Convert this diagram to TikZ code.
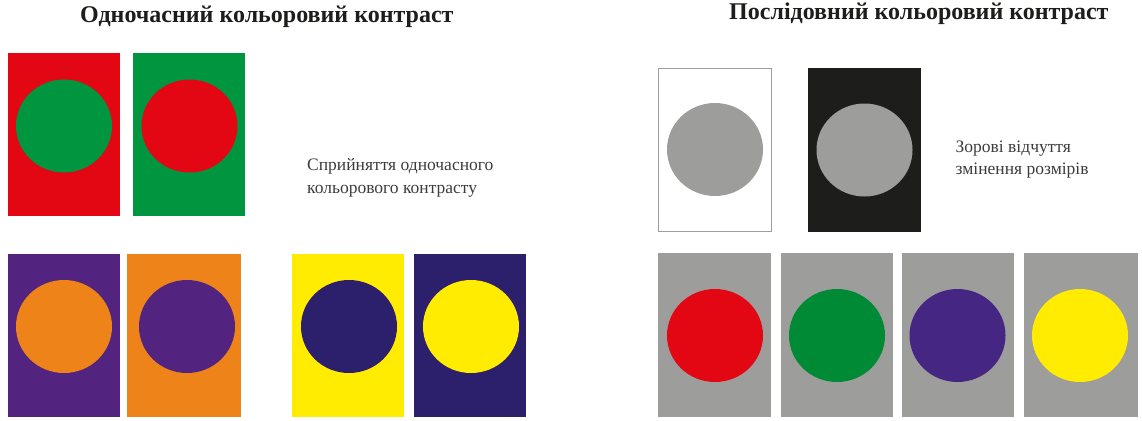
\documentclass[tikz,border=0pt]{standalone}
\usepackage{fontspec}
\setmainfont{Liberation Serif}
\definecolor{cred}{HTML}{E30613}
\definecolor{cgreen}{HTML}{009640}
\definecolor{cgreendk}{HTML}{008A36}
\definecolor{cpurple}{HTML}{52247F}
\definecolor{cpurple2}{HTML}{462683}
\definecolor{corange}{HTML}{EE831A}
\definecolor{cnavy}{HTML}{2C1F6B}
\definecolor{cyellow}{HTML}{FFEC00}
\definecolor{cgray}{HTML}{9D9D9C}
\definecolor{cblack}{HTML}{1D1D1B}
\definecolor{ctext}{HTML}{3C3C3B}
\tikzset{
  titletext/.style={font=\fontsize{24}{27}\selectfont\bfseries, text=cblack, inner sep=0pt, anchor=base west},
  bodytext/.style={text=ctext, inner sep=0pt, anchor=base west, align=left},
  dot/.style={x radius=48pt, y radius=46.5pt}
}
\newcommand{\colcard}[8]{%
  \fill[#5] (#1,#2) rectangle (#3,#4);
  \fill[#8] (#6,#7) ellipse [dot];
}
\begin{document}
\begin{tikzpicture}[x=1pt,y=-1pt]
\useasboundingbox (0,0) rectangle (1142,420);
% titles
\node[titletext] (t1) at (80,22.7) {Одночасний кольоровий контраст};
\node[titletext] (t2) at (729,20) {Послідовний кольоровий контраст};
% left top
\colcard{8}{53}{120}{216}{cred}{64}{126}{cgreen}
\colcard{133}{53}{245}{216}{cgreen}{189.5}{126}{cred}
% left bottom
\colcard{8}{254}{120}{417}{cpurple}{64}{326.5}{corange}
\colcard{127}{254}{241}{417}{corange}{187}{326.5}{cpurple}
\colcard{292}{254}{404}{417}{cyellow}{349}{326.5}{cnavy}
\colcard{414}{254}{526}{417}{cnavy}{471}{326.5}{cyellow}
% left label (anchor = baseline of last line)
\node[bodytext, font=\fontsize{17.5}{23}\selectfont] (l1) at (307,193) {Сприйняття одночасного\\кольорового контрасту};
% right top
\draw[cgray, line width=1.2pt] (658.6,68.6) rectangle (771.4,231.4);
\fill[cgray] (715,149.5) ellipse [dot];
\colcard{808}{68}{921}{232}{cblack}{864.5}{150}{cgray}
\node[bodytext, font=\fontsize{17.5}{21.5}\selectfont] (l2) at (955.5,174) {Зорові відчуття\\змінення розмірів};
% right bottom
\colcard{658}{253}{771}{417}{cgray}{715}{335.5}{cred}
\colcard{781}{253}{893}{417}{cgray}{837}{335.5}{cgreendk}
\colcard{902}{253}{1014}{417}{cgray}{957.5}{335.5}{cpurple2}
\colcard{1024}{253}{1138}{417}{cgray}{1080}{335.5}{cyellow}
\end{tikzpicture}
\end{document}
